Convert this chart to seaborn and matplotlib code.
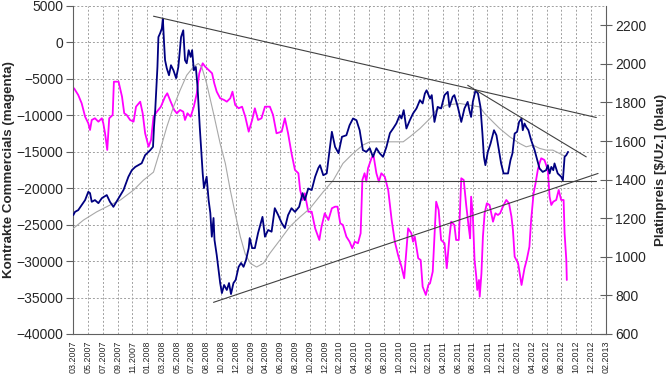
import matplotlib
matplotlib.use("Agg")
import matplotlib.pyplot as plt
import matplotlib.dates as mdates
import numpy as np
import pandas as pd
import seaborn as sns

sns.set_style("white")
plt.rcParams['font.family'] = ['Liberation Sans', 'DejaVu Sans']

# Platinpreis in $/Uz. (blau, rechte Achse)
preis_datum = ['2007-03-01', '2007-03-08', '2007-03-21', '2007-04-04', '2007-04-18', '2007-05-01', '2007-05-08',
               '2007-05-15', '2007-05-28', '2007-06-11', '2007-06-25', '2007-07-15', '2007-07-28', '2007-08-11',
               '2007-09-01', '2007-09-21', '2007-10-11', '2007-10-25', '2007-11-08', '2007-12-04', '2007-12-18',
               '2008-01-08', '2008-01-19', '2008-01-23', '2008-01-28', '2008-02-06', '2008-02-10', '2008-02-17',
               '2008-02-24', '2008-02-28', '2008-03-04', '2008-03-08', '2008-03-15', '2008-03-24', '2008-04-01',
               '2008-04-11', '2008-04-22', '2008-05-01', '2008-05-12', '2008-05-21', '2008-05-28', '2008-06-04',
               '2008-06-12', '2008-06-20', '2008-06-26', '2008-07-03', '2008-07-11', '2008-07-18', '2008-07-27',
               '2008-08-08', '2008-08-13', '2008-08-24', '2008-09-01', '2008-09-08', '2008-09-14', '2008-09-21',
               '2008-09-25', '2008-10-04', '2008-10-18', '2008-10-25', '2008-11-03', '2008-11-14', '2008-11-23',
               '2008-12-01', '2008-12-11', '2008-12-20', '2009-01-01', '2009-01-11', '2009-01-21', '2009-01-31',
               '2009-02-11', '2009-02-15', '2009-02-25', '2009-03-08', '2009-03-21', '2009-04-08', '2009-04-18',
               '2009-05-01', '2009-05-15', '2009-05-28', '2009-06-11', '2009-06-25', '2009-07-08', '2009-07-21',
               '2009-08-04', '2009-08-18', '2009-09-04', '2009-09-18', '2009-09-27', '2009-10-11', '2009-10-25',
               '2009-11-08', '2009-11-21', '2009-11-28', '2009-12-11', '2009-12-25', '2010-01-15', '2010-01-28',
               '2010-02-11', '2010-02-25', '2010-03-15', '2010-03-28', '2010-04-11', '2010-04-25', '2010-05-08',
               '2010-05-21', '2010-06-04', '2010-06-18', '2010-07-01', '2010-07-15', '2010-07-28', '2010-08-11',
               '2010-08-25', '2010-09-08', '2010-09-21', '2010-10-04', '2010-10-18', '2010-10-25', '2010-11-03',
               '2010-11-14', '2010-11-28', '2010-12-11', '2010-12-25', '2011-01-08', '2011-01-19', '2011-01-28',
               '2011-02-04', '2011-02-18', '2011-02-25', '2011-03-08', '2011-03-21', '2011-04-04', '2011-04-18',
               '2011-05-01', '2011-05-08', '2011-05-21', '2011-05-28', '2011-06-11', '2011-06-25', '2011-07-08',
               '2011-07-21', '2011-07-28', '2011-08-04', '2011-08-11', '2011-08-22', '2011-09-01', '2011-09-11',
               '2011-09-19', '2011-09-25', '2011-10-01', '2011-10-11', '2011-10-22', '2011-11-05', '2011-11-15',
               '2011-11-25', '2011-12-04', '2011-12-14', '2012-01-01', '2012-01-11', '2012-01-19', '2012-01-28',
               '2012-02-07', '2012-02-15', '2012-02-25', '2012-03-01', '2012-03-08', '2012-03-15', '2012-03-24',
               '2012-04-04', '2012-04-18', '2012-04-27', '2012-05-08', '2012-05-21', '2012-06-04', '2012-06-11',
               '2012-06-18', '2012-06-25', '2012-07-03', '2012-07-08', '2012-07-21', '2012-08-04', '2012-08-11',
               '2012-08-18', '2012-08-25', '2012-09-01']
preis = [1216, 1233, 1242, 1268, 1294, 1337, 1330,
         1285, 1294, 1278, 1304, 1320, 1285, 1259,
         1304, 1346, 1415, 1449, 1466, 1485, 1527,
         1553, 1570, 1673, 1760, 1984, 2139, 2159,
         2184, 2235, 2107, 2019, 1977, 1941, 1993,
         1967, 1926, 1984, 2139, 2174, 2019, 2003,
         2071, 2036, 2071, 1967, 1984, 1881, 1673,
         1432, 1356, 1415, 1294, 1227, 1104, 1201,
         1087, 1009, 864, 812, 854, 828, 864,
         807, 864, 880, 948, 968, 948, 983,
         1045, 1097, 1045, 1045, 1123, 1207, 1104,
         1139, 1130, 1252, 1216, 1175, 1149, 1216,
         1252, 1233, 1259, 1330, 1294, 1354, 1346,
         1415, 1460, 1475, 1423, 1432, 1648, 1570,
         1537, 1622, 1630, 1682, 1717, 1708, 1656,
         1553, 1544, 1563, 1518, 1563, 1537, 1518,
         1570, 1641, 1665, 1691, 1734, 1717, 1760,
         1665, 1708, 1743, 1769, 1812, 1795, 1846,
         1863, 1820, 1838, 1699, 1777, 1769, 1838,
         1855, 1777, 1829, 1838, 1777, 1699, 1769,
         1803, 1760, 1725, 1803, 1863, 1846, 1777,
         1639, 1518, 1475, 1544, 1587, 1656, 1630,
         1553, 1484, 1432, 1432, 1501, 1536, 1639,
         1648, 1699, 1717, 1656, 1691, 1673, 1656,
         1605, 1553, 1510, 1458, 1440, 1449, 1475,
         1432, 1466, 1449, 1484, 1432, 1415, 1397,
         1518, 1527, 1544]

# gleitender Durchschnitt des Preises (grau, rechte Achse)
gd_datum = ['2007-03-01', '2007-04-11', '2007-06-04', '2007-07-28', '2007-09-08', '2007-11-01', '2007-12-11',
            '2008-01-21', '2008-02-17', '2008-03-15', '2008-04-11', '2008-05-08', '2008-06-04', '2008-07-01',
            '2008-07-21', '2008-08-04', '2008-08-24', '2008-09-21', '2008-10-18', '2008-11-08', '2008-11-28',
            '2008-12-18', '2009-01-08', '2009-01-28', '2009-02-18', '2009-03-15', '2009-04-11', '2009-05-08',
            '2009-06-18', '2009-07-28', '2009-09-08', '2009-10-18', '2009-12-11', '2010-01-21', '2010-03-01',
            '2010-04-11', '2010-05-21', '2010-06-18', '2010-07-28', '2010-09-21', '2010-11-01', '2010-11-28',
            '2011-01-08', '2011-02-18', '2011-03-15', '2011-04-25', '2011-06-18', '2011-07-28', '2011-09-08',
            '2011-09-28', '2011-11-01', '2011-11-28', '2012-01-08', '2012-02-18', '2012-03-15', '2012-04-11',
            '2012-05-08', '2012-06-04', '2012-07-01', '2012-07-28', '2012-08-18']
gd = [1147, 1190, 1233, 1268, 1294, 1346, 1397,
      1439, 1553, 1673, 1777, 1863, 1941, 1984,
      2002, 1984, 1898, 1743, 1587, 1484, 1346,
      1225, 1104, 1014, 966, 947, 966, 1018,
      1087, 1156, 1207, 1251, 1337, 1397, 1484,
      1536, 1579, 1596, 1596, 1596, 1596, 1622,
      1665, 1717, 1760, 1786, 1795, 1786, 1777,
      1743, 1699, 1665, 1622, 1587, 1570, 1579,
      1562, 1553, 1553, 1536, 1522]

# Netto-Kontrakte der Commercials (magenta, linke Achse)
cot_datum = ['2007-03-04', '2007-03-21', '2007-04-04', '2007-04-18', '2007-05-01', '2007-05-08', '2007-05-15',
             '2007-05-28', '2007-06-11', '2007-06-25', '2007-07-01', '2007-07-08', '2007-07-17', '2007-07-25',
             '2007-08-08', '2007-08-13', '2007-09-01', '2007-09-15', '2007-09-24', '2007-10-04', '2007-10-18',
             '2007-11-01', '2007-11-11', '2007-11-28', '2007-12-08', '2007-12-18', '2008-01-01', '2008-01-11',
             '2008-01-21', '2008-02-04', '2008-02-20', '2008-03-08', '2008-03-17', '2008-03-28', '2008-04-14',
             '2008-04-25', '2008-05-08', '2008-05-21', '2008-05-28', '2008-06-07', '2008-06-20', '2008-07-03',
             '2008-07-15', '2008-07-25', '2008-08-08', '2008-08-18', '2008-09-01', '2008-09-15', '2008-09-24',
             '2008-10-04', '2008-10-18', '2008-11-03', '2008-11-14', '2008-11-28', '2008-12-07', '2008-12-18',
             '2009-01-01', '2009-01-15', '2009-01-28', '2009-02-11', '2009-02-25', '2009-03-08', '2009-03-21',
             '2009-04-04', '2009-04-18', '2009-05-08', '2009-05-21', '2009-06-04', '2009-06-25', '2009-07-08',
             '2009-07-21', '2009-08-04', '2009-08-18', '2009-09-01', '2009-09-08', '2009-09-18', '2009-09-27',
             '2009-10-11', '2009-10-25', '2009-11-08', '2009-11-25', '2009-12-04', '2009-12-17', '2010-01-01',
             '2010-01-15', '2010-01-28', '2010-02-07', '2010-02-18', '2010-03-01', '2010-03-15', '2010-03-28',
             '2010-04-08', '2010-04-18', '2010-05-01', '2010-05-12', '2010-05-19', '2010-05-28', '2010-06-04',
             '2010-06-11', '2010-06-25', '2010-07-03', '2010-07-15', '2010-07-25', '2010-08-04', '2010-08-18',
             '2010-09-01', '2010-09-15', '2010-09-28', '2010-10-11', '2010-10-25', '2010-11-05', '2010-11-15',
             '2010-11-21', '2010-12-04', '2010-12-11', '2010-12-18', '2011-01-01', '2011-01-11', '2011-01-19',
             '2011-02-01', '2011-02-11', '2011-02-18', '2011-03-01', '2011-03-15', '2011-03-25', '2011-04-04',
             '2011-04-18', '2011-04-27', '2011-05-08', '2011-05-15', '2011-05-28', '2011-06-04', '2011-06-15',
             '2011-06-25', '2011-07-05', '2011-07-15', '2011-07-25', '2011-07-31', '2011-08-04', '2011-08-11',
             '2011-08-18', '2011-08-25', '2011-08-29', '2011-09-05', '2011-09-08', '2011-09-15', '2011-09-21',
             '2011-09-28', '2011-10-07', '2011-10-18', '2011-11-01', '2011-11-11', '2011-11-21', '2011-11-30',
             '2011-12-11', '2011-12-25', '2012-01-05', '2012-01-15', '2012-01-21', '2012-01-28', '2012-02-11',
             '2012-02-25', '2012-03-08', '2012-03-17', '2012-03-28', '2012-04-04', '2012-04-14', '2012-04-22',
             '2012-05-01', '2012-05-08', '2012-05-15', '2012-05-28', '2012-06-11', '2012-06-18', '2012-06-25',
             '2012-07-03', '2012-07-15', '2012-07-25', '2012-08-04', '2012-08-14', '2012-08-18', '2012-08-25',
             '2012-08-27']
cot = [-6290, -7209, -8348, -10186, -11092, -12011, -10639,
       -10406, -10872, -10406, -11092, -12464, -14755, -10406,
       -9953, -5384, -5384, -7442, -9720, -9953, -10639,
       -10872, -8814, -8128, -9720, -12464, -14302, -13383,
       -10186, -9500, -8814, -7442, -6976, -7895, -9267,
       -9720, -9267, -9500, -10639, -9720, -10186, -8814,
       -6976, -4232, -2860, -3326, -3779, -4232, -5604,
       -6756, -7662, -7895, -8128, -7662, -6756, -8581,
       -9034, -8814, -10186, -12244, -10639, -9034, -10639,
       -10406, -8814, -8814, -9953, -12464, -12244, -10406,
       -12464, -15208, -17499, -17952, -20243, -21615, -20696,
       -23220, -23220, -25498, -27103, -25278, -23440, -24359,
       -22754, -22534, -22534, -24812, -25045, -26650, -27336,
       -28242, -27336, -27556, -26184, -18871, -17952, -19104,
       -17266, -15894, -15441, -17952, -19104, -17952, -18418,
       -20243, -24359, -27336, -29161, -30766, -32358, -28022,
       -25498, -26184, -27336, -26650, -29614, -29847, -33510,
       -34649, -33277, -33044, -31452, -21848, -22987, -27103,
       -27556, -30986, -26650, -24592, -25045, -27103, -27103,
       -18638, -18871, -22301, -25278, -26870, -21162, -23673,
       -29847, -32138, -33963, -32591, -34882, -31672, -26650,
       -23440, -22068, -22301, -24592, -23440, -23673, -23440,
       -22534, -21615, -22068, -23906, -25731, -29394, -30300,
       -33277, -30986, -29847, -28022, -24359, -20696, -19324,
       -17499, -16580, -15894, -16127, -17499, -21162, -22301,
       -21848, -21615, -20243, -21615, -21615, -26184, -29847,
       -32591]

# Trendlinien im Preis (Start-/Enddatum und Preis)
trend_start = ['2008-01-21', '2011-07-21', '2008-09-21', '2009-12-17']
trend_ende = ['2012-12-25', '2012-11-14', '2013-01-01', '2012-12-24']
trend_wert_start = [2247, 1889, 764, 1395]
trend_wert_ende = [1722, 1518, 1432, 1395]

# Beschriftung der x-Achse
x_labels = ['03.2007', '05.2007', '07.2007', '09.2007', '11.2007', '01.2008', '03.2008', '05.2008',
            '07.2008', '08.2008', '10.2008', '12.2008', '02.2009', '04.2009', '06.2009', '08.2009',
            '10.2009', '12.2009', '02.2010', '04.2010', '06.2010', '08.2010', '10.2010', '12.2010',
            '02.2011', '04.2011', '06.2011', '08.2011', '10.2011', '12.2011', '02.2012', '04.2012',
            '06.2012', '08.2012', '10.2012', '12.2012', '02.2013']

df_preis = pd.DataFrame({'Datum': pd.to_datetime(preis_datum), 'Preis': preis})
df_gd = pd.DataFrame({'Datum': pd.to_datetime(gd_datum), 'GD': gd})
df_cot = pd.DataFrame({'Datum': pd.to_datetime(cot_datum), 'Netto': cot})

## Grafik
fig, ax = plt.subplots(figsize=(6.7, 3.74), dpi=100)
fig.subplots_adjust(left=0.1094, right=0.904, top=0.984, bottom=0.107)
ax2 = ax.twinx()

sns.lineplot(data=df_cot, x='Datum', y='Netto', ax=ax, color='#ff00ff', lw=1.3)
sns.lineplot(data=df_gd, x='Datum', y='GD', ax=ax2, color='#a8a8a8', lw=0.8)
sns.lineplot(data=df_preis, x='Datum', y='Preis', ax=ax2, color='#000080', lw=1.3)
for d0, d1, v0, v1 in zip(trend_start, trend_ende, trend_wert_start, trend_wert_ende):
    sns.lineplot(x=pd.to_datetime([d0, d1]), y=[v0, v1], ax=ax2, color='#404040', lw=0.8)

# Achsen
x0, x1 = pd.Timestamp('2007-03-01'), pd.Timestamp('2013-02-01')
ax.set_xlim(x0, x1)
ax.set_xticks(np.linspace(mdates.date2num(x0), mdates.date2num(x1), len(x_labels)))
ax.set_xticklabels(x_labels, rotation=90)
ax.set_ylim(-40000, 5000)
ax.set_yticks(np.arange(-40000, 5001, 5000))
ax2.set_ylim(600, 2300)
ax2.set_yticks(np.arange(600, 2201, 200))

ax.grid(True, color='#a0a0a0', ls=(0, (2, 2)), lw=0.7)
ax2.grid(False)

for a in (ax, ax2):
    a.spines['top'].set_visible(False)
    for s in ('left', 'bottom', 'right'):
        a.spines[s].set_color('#606060')
ax.spines['right'].set_visible(False)
ax2.spines['left'].set_visible(False)
ax2.spines['bottom'].set_visible(False)

ax.tick_params(axis='y', direction='out', length=5, width=0.8, color='#606060', labelsize=10, pad=2)
ax.tick_params(axis='x', direction='out', length=3, width=0.8, color='#606060', labelsize=6.4, pad=2)
ax2.tick_params(axis='y', direction='inout', length=8, width=0.8, color='#606060', labelsize=10, pad=3)

ax.set_xlabel('')
ax2.set_xlabel('')
ax.set_ylabel('Kontrakte Commercials (magenta)', fontsize=9.6, fontweight='bold', labelpad=1)
ax2.set_ylabel(r'Platinpreis [\$/Uz.] (blau)', fontsize=9.6, fontweight='bold', labelpad=6)

fig.savefig('out.png', dpi=100)
